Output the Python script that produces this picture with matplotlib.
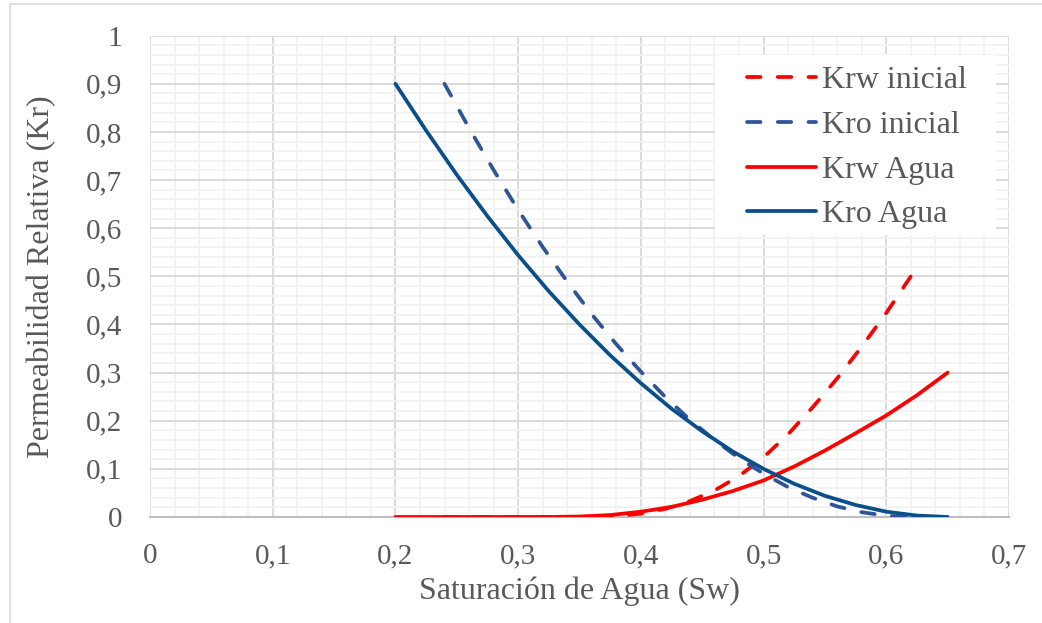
import matplotlib
matplotlib.use("Agg")
import matplotlib.pyplot as plt
from matplotlib.ticker import MultipleLocator
from matplotlib.patches import Rectangle

plt.rcParams['font.family'] = ['Liberation Serif', 'DejaVu Serif']

# ---- data ----
sw_agua = [0.200, 0.225, 0.250, 0.275, 0.300, 0.325, 0.350, 0.375, 0.400, 0.425,
           0.450, 0.475, 0.500, 0.525, 0.550, 0.575, 0.600, 0.625, 0.650]
kro_agua = [0.900, 0.803, 0.711, 0.625, 0.544, 0.469, 0.400, 0.336, 0.278, 0.225,
            0.178, 0.136, 0.100, 0.069, 0.044, 0.025, 0.011, 0.003, 0.000]
krw_agua = [0.000, 0.000, 0.000, 0.000, 0.000, 0.000, 0.001, 0.004, 0.011, 0.021,
            0.036, 0.054, 0.076, 0.105, 0.138, 0.174, 0.211, 0.253, 0.300]

sw_ini = [0.24, 0.26, 0.28, 0.30, 0.32, 0.34, 0.36, 0.38, 0.40, 0.42,
          0.44, 0.46, 0.48, 0.50, 0.52, 0.54, 0.56, 0.58, 0.60, 0.62]
kro_ini = [0.900, 0.808, 0.721, 0.638, 0.561, 0.489, 0.421, 0.359, 0.302, 0.249,
           0.202, 0.160, 0.122, 0.090, 0.062, 0.040, 0.022, 0.010, 0.0025, 0.000]
krw_ini = [0.000, 0.000, 0.000, 0.000, 0.000, 0.000, 0.000, 0.002, 0.007, 0.017,
           0.033, 0.055, 0.085, 0.124, 0.172, 0.228, 0.288, 0.354, 0.424, 0.500]

x_ticks = [0, 0.1, 0.2, 0.3, 0.4, 0.5, 0.6, 0.7]
x_labels = ['0', '0,1', '0,2', '0,3', '0,4', '0,5', '0,6', '0,7']
y_ticks = [0, 0.1, 0.2, 0.3, 0.4, 0.5, 0.6, 0.7, 0.8, 0.9, 1.0]
y_labels = ['0', '0,1', '0,2', '0,3', '0,4', '0,5', '0,6', '0,7', '0,8', '0,9', '1']

RED = '#FF0000'
BLUE_DASH = '#2F5597'
BLUE = '#0A4E8A'
TXT = '#595959'

W, H = 1042, 623
fig = plt.figure(figsize=(W/100, H/100), dpi=100)
ax_l, ax_r, ax_t, ax_b = 150, 1009, 35.7, 517
ax = fig.add_axes([ax_l/W, 1-ax_b/H, (ax_r-ax_l)/W, (ax_b-ax_t)/H])

# figure border (left/top visible)
fig.add_artist(Rectangle((10/W, -0.1), 1.2, (H-4)/H + 0.1, transform=fig.transFigure,
                         fill=False, edgecolor='#D9D9D9', lw=1.2))

lw = 2.7
dash = (3.6, 4.6)
ax.plot(sw_ini, krw_ini, color=RED, lw=lw, dashes=dash, dash_capstyle='round',
        solid_capstyle='round', label='Krw inicial', zorder=3)
ax.plot(sw_ini, kro_ini, color=BLUE_DASH, lw=lw, dashes=dash, dash_capstyle='round',
        solid_capstyle='round', label='Kro inicial', zorder=3)
ax.plot(sw_agua, krw_agua, color=RED, lw=lw, solid_capstyle='round', label='Krw Agua', zorder=4)
ax.plot(sw_agua, kro_agua, color=BLUE, lw=lw, solid_capstyle='round', label='Kro Agua', zorder=4)

ax.set_xlim(0, 0.7)
ax.set_ylim(0, 1)
ax.set_xticks(x_ticks)
ax.set_xticklabels(x_labels)
ax.set_yticks(y_ticks)
ax.set_yticklabels(y_labels)
ax.xaxis.set_minor_locator(MultipleLocator(0.02))
ax.yaxis.set_minor_locator(MultipleLocator(0.02))
ax.grid(which='major', color='#D9D9D9', lw=1.3, zorder=0)
ax.grid(which='minor', color='#F2F2F2', lw=1.3, zorder=0)
ax.set_axisbelow(True)
for s in ['top', 'right', 'left']:
    ax.spines[s].set_visible(False)
ax.spines['bottom'].set_color('#BFBFBF')
ax.spines['bottom'].set_linewidth(1.5)
ax.tick_params(which='both', length=0)
ax.tick_params(axis='y', labelsize=21, labelcolor=TXT, pad=20)
ax.tick_params(axis='x', labelsize=21, labelcolor=TXT, pad=19)

ax.set_xlabel('Saturación de Agua (Sw)', fontsize=23, color=TXT, labelpad=5)
ax.set_ylabel('Permeabilidad Relativa (Kr)', fontsize=23, color=TXT, labelpad=21)

# legend background box (pixel extents from the reference)
def px2ax(x, y):
    return (x-ax_l)/(ax_r-ax_l), (ax_b-y)/(ax_b-ax_t)
bx0, by0 = px2ax(715, 235)
bx1, by1 = px2ax(996, 55)
ax.add_patch(Rectangle((bx0, by0), bx1-bx0, by1-by0, transform=ax.transAxes,
                       facecolor='white', edgecolor='none', zorder=4.5))

lx, ly = px2ax(747, 66)
leg = ax.legend(loc='upper left', bbox_to_anchor=(lx, ly), borderaxespad=0,
                fontsize=23, frameon=False,
                handlelength=2.15, handletextpad=0.2, labelspacing=0.48,
                borderpad=0)
leg.set_zorder(6)
for t in leg.get_texts():
    t.set_color(TXT)

fig.savefig('out.png', dpi=100)
